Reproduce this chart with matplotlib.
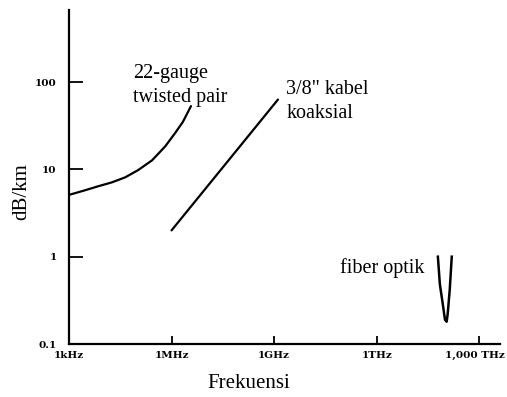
import matplotlib
matplotlib.use("Agg")
import matplotlib.pyplot as plt
from matplotlib import transforms

# attenuation (dB/km) versus frequency (Hz) for three transmission media
twisted_freq = [1e3, 2.9e3, 7.1e3, 1.8e4, 4.4e4, 1.05e5, 2.7e5, 6.5e5, 1.26e6, 2.15e6, 3.7e6]
twisted_db = [5.1, 5.75, 6.4, 7.1, 8.1, 9.8, 12.7, 18.3, 25.9, 35, 53]

coax_freq = [1.0e6, 1.3e9]
coax_db = [2.0, 63]

fiber_freq = [6.2e13, 7.1e13, 8.7e13, 1.0e14, 1.12e14, 1.2e14, 1.38e14, 1.58e14]
fiber_db = [1.0, 0.48, 0.28, 0.19, 0.18, 0.22, 0.42, 1.0]

x_ticks = [1e3, 1e6, 1e9, 1e12, 1e15]
x_labels = ["1kHz", "1MHz", "1GHz", "1THz", "1,000 THz"]
y_ticks = [0.1, 1, 10, 100]
y_labels = ["0.1", "1", "10", "100"]

serif = "Liberation Serif"
tick_font = "DejaVu Serif"

fig = plt.figure(figsize=(5.07, 3.97), dpi=100)
ax = fig.add_axes([69 / 507, 1 - 344 / 397, (500 - 69) / 507, (344 - 10) / 397])

ax.plot(twisted_freq, twisted_db, color="black", lw=1.6, solid_capstyle="round")
ax.plot(coax_freq, coax_db, color="black", lw=1.6, solid_capstyle="round")
ax.plot(fiber_freq, fiber_db, color="black", lw=1.8)

ax.set_xscale("log")
ax.set_yscale("log")
ax.set_xlim(1e3, 10 ** 15.61)
ax.set_ylim(0.1, 10 ** 2.825)

ax.set_xticks(x_ticks)
ax.set_xticklabels(x_labels, fontfamily=tick_font, fontsize=7.5, fontweight="bold")
ax.set_yticks(y_ticks)
ax.set_yticklabels(y_labels, fontfamily=tick_font, fontsize=7.5, fontweight="bold")
ax.minorticks_off()
ax.tick_params(axis="y", direction="in", length=10, width=1.3, pad=9)
ax.tick_params(axis="x", direction="in", length=6, width=1.3, pad=5)

# keep the last frequency label inside the canvas
last = ax.get_xticklabels()[-1]
last.set_horizontalalignment("right")
last.set_transform(last.get_transform() + transforms.ScaledTranslation(26 / 100, 0, fig.dpi_scale_trans))

for side in ("top", "right"):
    ax.spines[side].set_visible(False)
for side in ("left", "bottom"):
    ax.spines[side].set_linewidth(1.6)

ax.text(7.4e4, 10 ** 2.21, "22-gauge\ntwisted pair", fontfamily=serif,
        fontsize=14.5, va="top", ha="left", linespacing=1.35)
ax.text(2.3e9, 105, "3/8\" kabel\nkoaksial", fontfamily=serif,
        fontsize=14.5, va="top", ha="left", linespacing=1.35)
ax.text(8.3e10, 0.75, "fiber optik", fontfamily=serif,
        fontsize=14.5, va="center", ha="left")

fig.text(249 / 507, 1 - 384 / 397, "Frekuensi", fontfamily=serif,
         fontsize=15, ha="center", va="center")
fig.text(22 / 507, 1 - 192 / 397, "dB/km", fontfamily=serif,
         fontsize=15, rotation=90, ha="center", va="center")

fig.savefig("out.png", dpi=100)
